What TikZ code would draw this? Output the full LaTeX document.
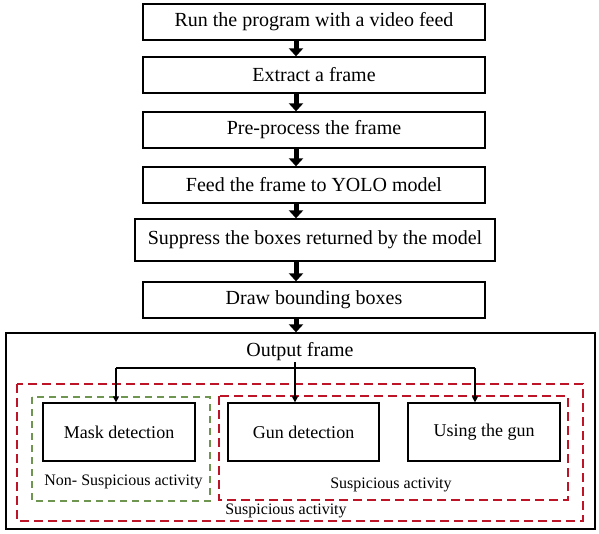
\documentclass[tikz,border=0pt]{standalone}
\usepackage{fontspec}
\setmainfont{Liberation Serif}
\usetikzlibrary{arrows.meta}
\definecolor{dred}{RGB}{190,20,40}
\definecolor{dgreen}{RGB}{110,150,80}
\begin{document}
\begin{tikzpicture}[x=1pt,y=1pt,
  stepbox/.style={draw=black, line width=1.3pt, minimum height=36pt, minimum width=342pt, inner sep=0pt, font=\fontsize{20}{24}\selectfont},
  detbox/.style={draw=black, line width=1.3pt, minimum height=58pt, minimum width=152pt, inner sep=0pt, font=\fontsize{18}{22}\selectfont},
  lbl/.style={inner sep=0pt, font=\fontsize{16}{19}\selectfont},
  bigarrow/.style={line width=5pt, -{Triangle[width=14pt 0, length=8pt 0]}},
  thinarrow/.style={line width=1.4pt, -{Triangle[width=6pt 0, length=6pt 0]}},
  reddash/.style={draw=dred, line width=2.4pt, dash pattern=on 9pt off 5pt},
  greendash/.style={draw=dgreen, line width=2pt, dash pattern=on 7pt off 5pt}
]
\useasboundingbox (0,0) rectangle (599,534);
% main flow
\node[stepbox] (b1) at (314,512) {Run the program with a video feed};
\node[stepbox] (b2) at (314,459) {Extract a frame};
\node[stepbox] (b3) at (314,404) {Pre-process the frame};
\node[stepbox] (b4) at (314,349) {Feed the frame to YOLO model};
\node[stepbox, minimum width=360pt, minimum height=42pt] (b5) at (315,294) {Suppress the boxes returned by the model};
\node[stepbox] (b6) at (314,234) {Draw bounding boxes};
% output region
\node[draw=black, line width=1.3pt, minimum width=589pt, minimum height=196pt, inner sep=0pt] (outer) at (300.5,103) {};
\node[inner sep=0pt, font=\fontsize{20}{24}\selectfont] (outframe) at (300,182) {Output frame};
\coordinate (ax) at (296,0);
\draw[bigarrow] (b1.south -| ax) -- (b2.north -| ax);
\draw[bigarrow] (b2.south -| ax) -- (b3.north -| ax);
\draw[bigarrow] (b3.south -| ax) -- (b4.north -| ax);
\draw[bigarrow] (b4.south -| ax) -- (b5.north -| ax);
\draw[bigarrow] (b5.south -| ax) -- (b6.north -| ax);
\draw[bigarrow] (b6.south -| ax) -- (outer.north -| ax);
% dashed groups
\draw[reddash] (17,150) rectangle (583,13);
\draw[greendash] (32,137) rectangle (210,33);
\draw[reddash] (219,138) rectangle (568,34);
% detection boxes
\node[detbox] (mask) at (119,102) {Mask detection};
\node[detbox, minimum width=151pt] (gun) at (303.5,102) {Gun detection};
\node[detbox] (using) at (484,102) {Using the gun};
\node[lbl] (lns) at (123.5,52) {Non- Suspicious activity};
\node[lbl] (lsi) at (391,49) {Suspicious activity};
\node[lbl] (lso) at (286,23) {Suspicious activity};
% connectors
\coordinate (cx) at (295,0);
\coordinate (jl) at (116,166);
\coordinate (jr) at (475,166);
\draw[line width=1.4pt] (jl) -- (jr);
\draw[thinarrow] ([yshift=-1pt]outframe.south -| cx) -- (gun.north -| cx);
\draw[thinarrow] (jl) -- (mask.north -| jl);
\draw[thinarrow] (jr) -- (using.north -| jr);
\end{tikzpicture}
\end{document}
